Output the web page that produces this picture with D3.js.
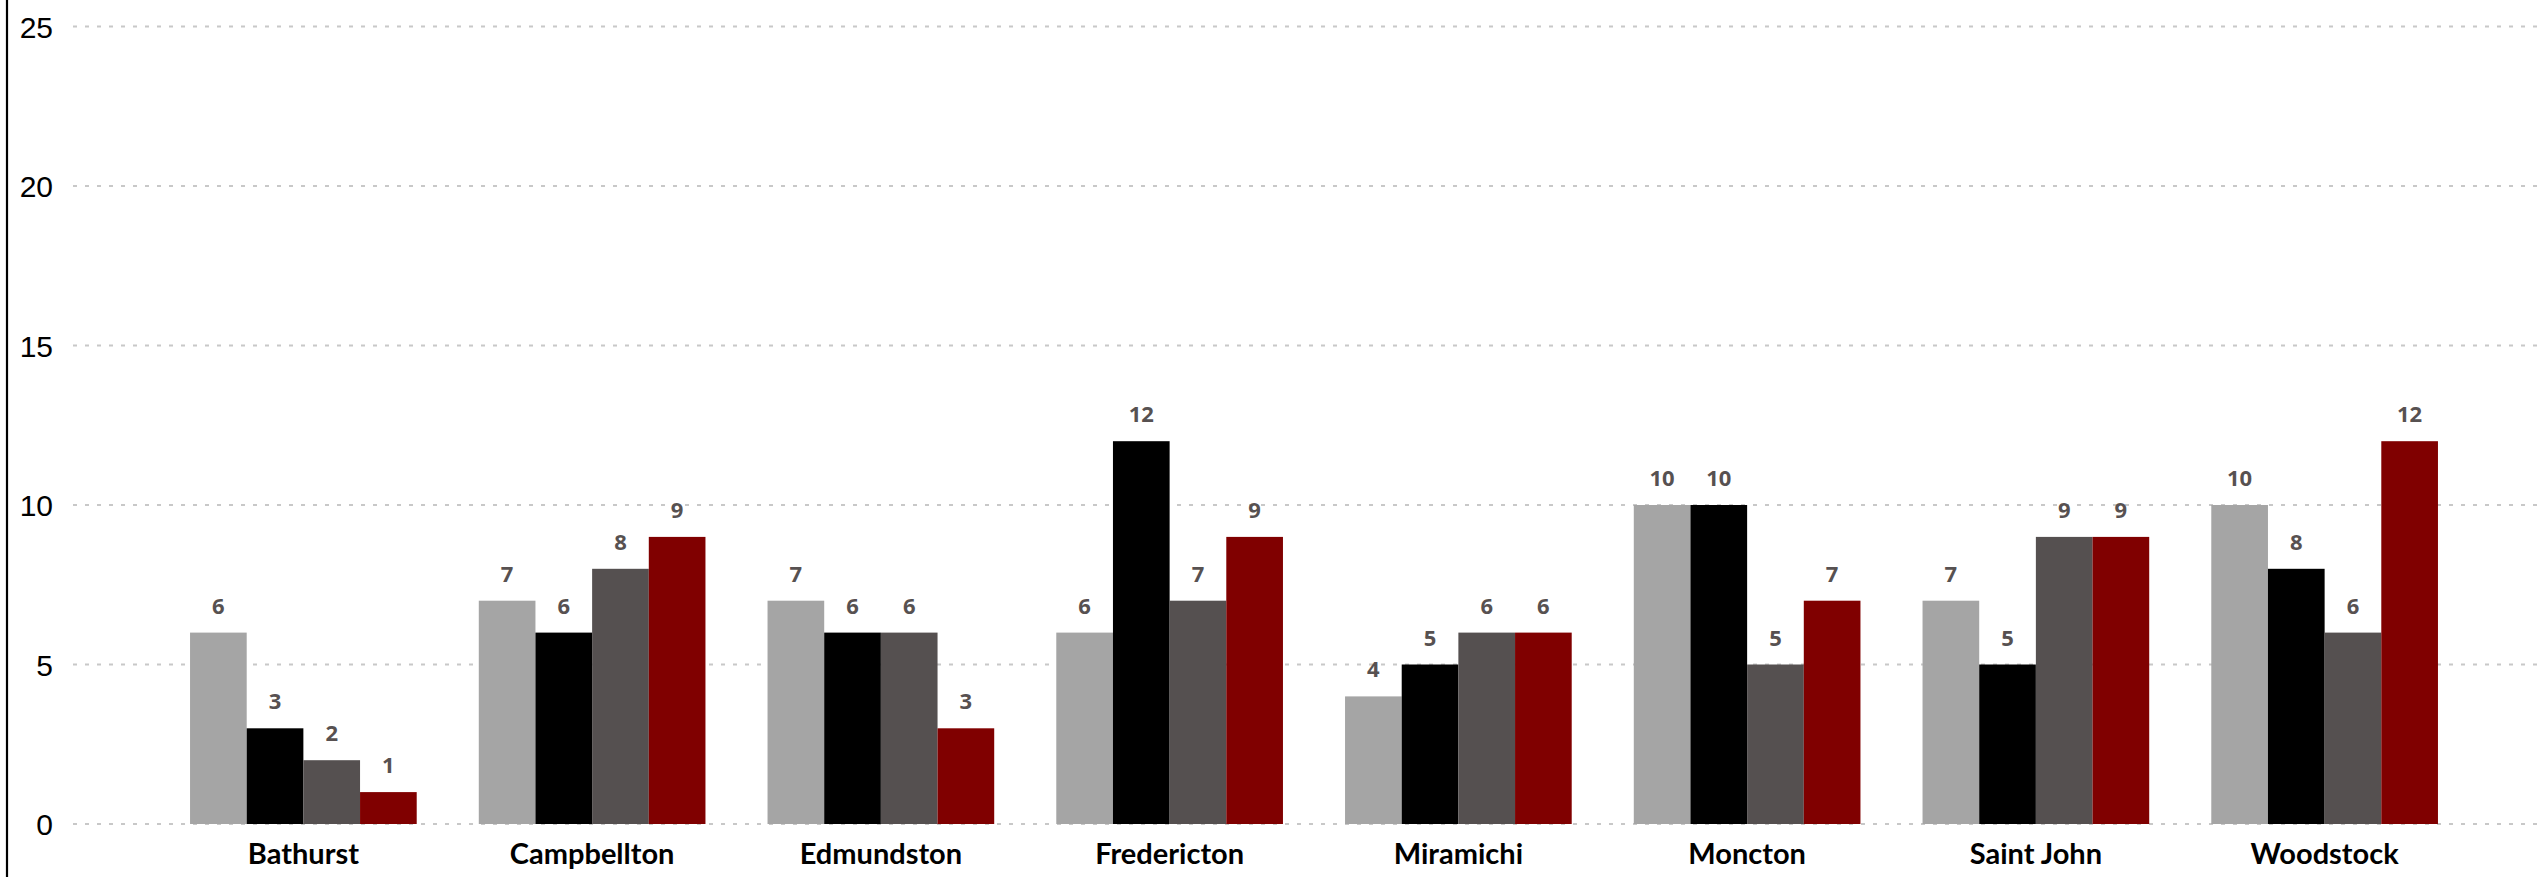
<!DOCTYPE html>
<html>
<head>
<meta charset="utf-8">
<script src="https://cdn.jsdelivr.net/npm/d3@7"></script>
<style>
  html, body { margin: 0; padding: 0; background: #ffffff; }
  svg { display: block; }
</style>
</head>
<body>
<script>
const categories = ["Bathurst", "Campbellton", "Edmundston", "Fredericton", "Miramichi", "Moncton", "Saint John", "Woodstock"];
const seriesNames = ["Series 1", "Series 2", "Series 3", "Series 4"];
const series1 = [6, 7, 7, 6, 4, 10, 7, 10];
const series2 = [3, 6, 6, 12, 5, 10, 5, 8];
const series3 = [2, 8, 6, 7, 6, 5, 9, 6];
const series4 = [1, 9, 3, 9, 6, 7, 9, 12];
const seriesColors = ["#a5a5a5", "#000000", "#555050", "#800000"];
const yTicks = [0, 5, 10, 15, 20, 25];

const W = 2545, H = 877;
const allSeries = [series1, series2, series3, series4];

const svg = d3.select("body").append("svg")
  .attr("width", W).attr("height", H);

const y = d3.scaleLinear().domain([0, 25]).range([824, 26.5]);
const x0 = d3.scaleBand().domain(categories).range([159, 2469])
  .paddingInner(0.215).paddingOuter(0.1075);
const x1 = d3.scaleBand().domain(seriesNames).range([0, x0.bandwidth()]).padding(0);

// gridlines
svg.append("g").selectAll("line").data(yTicks).join("line")
  .attr("x1", 73).attr("x2", W)
  .attr("y1", d => y(d)).attr("y2", d => y(d))
  .attr("stroke", "#c8c8c8").attr("stroke-width", 2)
  .attr("stroke-dasharray", "4,8");

// y axis labels
const yAxis = d3.axisLeft(y).tickValues(yTicks).tickSize(0).tickPadding(0);
const gy = svg.append("g").attr("transform", "translate(53,0)").call(yAxis);
gy.select(".domain").remove();
gy.selectAll("text")
  .attr("font-family", "'Liberation Sans', Arial, sans-serif")
  .attr("font-size", 30).attr("fill", "#000").attr("dy", "0.36em");

// left axis line
svg.append("line").attr("x1", 7).attr("x2", 7).attr("y1", 0).attr("y2", H)
  .attr("stroke", "#000").attr("stroke-width", 2.2);

// bars
const groups = svg.append("g").selectAll("g").data(categories).join("g")
  .attr("transform", d => `translate(${x0(d)},0)`);

const cells = groups.selectAll("g.cell")
  .data((c, i) => seriesNames.map((s, k) => ({ s, k, v: allSeries[k][i] })))
  .join("g").attr("class", "cell");

cells.append("rect")
  .attr("x", d => x1(d.s))
  .attr("y", d => y(d.v))
  .attr("width", x1.bandwidth())
  .attr("height", d => y(0) - y(d.v))
  .attr("fill", d => seriesColors[d.k]);

cells.append("text")
  .attr("x", d => x1(d.s) + x1.bandwidth() / 2)
  .attr("y", d => y(d.v) - 19)
  .attr("text-anchor", "middle")
  .attr("font-family", "'Open Sans', Lato, sans-serif")
  .attr("font-weight", "bold")
  .attr("font-size", 22)
  .attr("fill", "#575151")
  .text(d => d.v);

// category labels
const xAxis = d3.axisBottom(x0).tickSize(0).tickPadding(0);
const gx = svg.append("g").attr("transform", "translate(0,864)").call(xAxis);
gx.select(".domain").remove();
gx.selectAll("text")
  .attr("font-family", "Lato, 'Open Sans', sans-serif")
  .attr("font-weight", "bold")
  .attr("font-size", 29)
  .attr("fill", "#000")
  .attr("dy", 0);
</script>
</body>
</html>
